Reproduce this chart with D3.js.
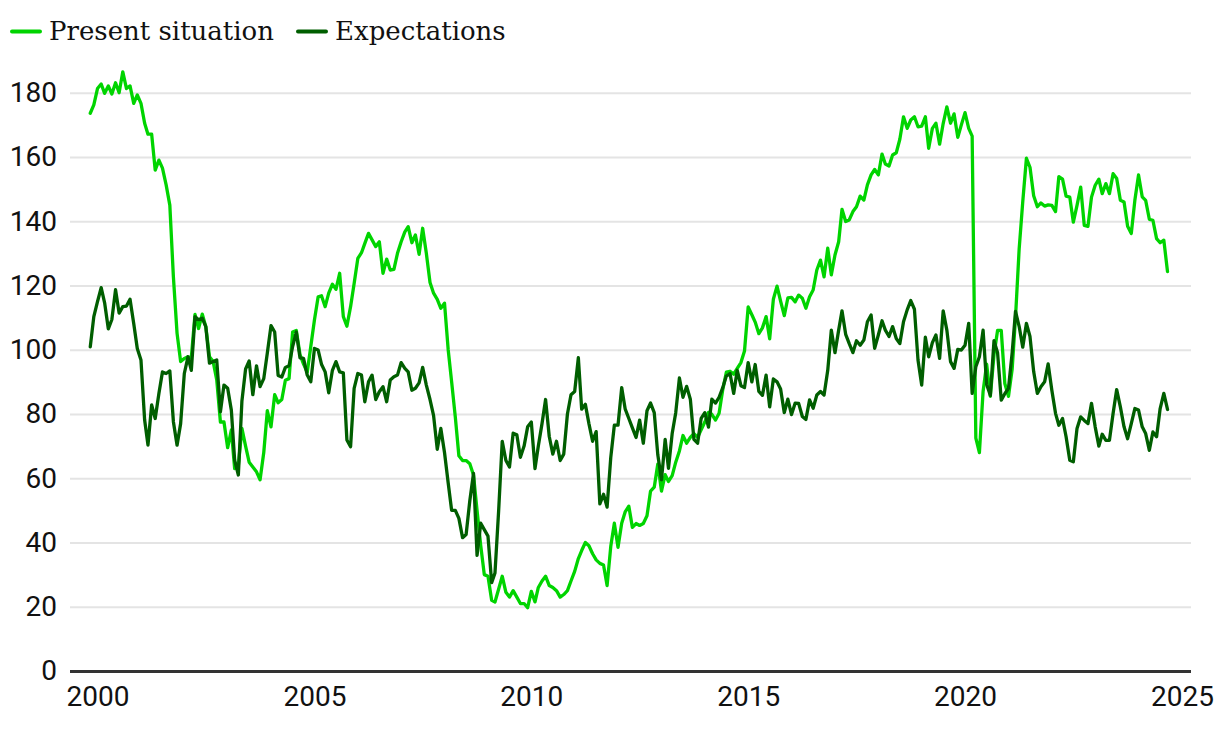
<!DOCTYPE html>
<html>
<head>
<meta charset="utf-8">
<script src="https://cdn.jsdelivr.net/npm/d3@7"></script>
<style>
  html, body { margin: 0; padding: 0; background: #ffffff; }
  svg { display: block; }
</style>
</head>
<body>
<svg id="chart" width="1220" height="732"></svg>
<script>
// ---------------- DATA ----------------
const seriesNames = ["Present situation", "Expectations"];
const firstMonth = "1999-11";   // first monthly observation, last one is 2024-09
const presentSituation = [
  173.6, 176.2, 181.3, 182.7, 179.8, 182.1, 179.6, 183.1, 180, 186.5, 181.3, 182.1,
  176.7, 179.3, 176.7, 170.5, 167.1, 167.1, 155.9, 159, 156.5, 151.3,
  145, 122.7, 105.1, 96.3, 97.3, 97.8, 97.5, 111, 106.6, 111.1,
  107.2, 97.8, 96.3, 90.6, 77.5, 77.5, 69.5, 75, 63, 64,
  75.5, 70, 65, 63.5, 62, 59.5, 68, 81, 76, 86,
  83.5, 84.5, 90.5, 91, 105.5, 106, 98.5, 95.5, 93, 101,
  109.3, 116.5, 116.8, 113.4, 117.6, 120.4, 118.8, 123.8, 110.3, 107.3,
  113.4, 120.6, 128.4, 130.2, 133.1, 136.2, 134.2, 132.1, 133.6, 123.8,
  128.2, 124.8, 125, 130, 133.6, 136.7, 138.3, 133.3, 135.7, 129.7,
  137.8, 130, 120.9, 117.6, 115.7, 112.9, 114.5, 100, 90, 79,
  67, 65.5, 65.5, 64.5, 61, 50, 39, 30, 29.5, 22,
  21.5, 25.5, 29.5, 24.5, 23, 25, 23, 21, 21, 19.7,
  24.8, 21.5, 26, 28, 29.5, 26.6, 26, 25, 23, 23.8,
  25, 28, 31, 35, 37.5, 40, 39, 36.5, 34.6, 33.5,
  33, 26.6, 38.8, 46, 38.5, 46, 49.5, 51.3, 44.7, 45.9,
  45.3, 45.9, 48.3, 56, 57.2, 64.4, 56, 61.1, 59, 60.8,
  65, 68.5, 73.3, 70.9, 72.7, 73.9, 72.7, 75.1, 77.5, 80.5,
  79.9, 78.1, 80.2, 87.6, 93, 93.3, 92.4, 94.2, 96, 99.6,
  113.3, 110.9, 108.6, 105, 106.8, 110.3, 103.4, 115.7, 119.8, 115.1,
  110.6, 116.1, 116.3, 114.9, 117, 116, 112.9, 116.5, 118.6, 124.8,
  127.9, 122.7, 131.6, 123.3, 129.5, 133.6, 143.7, 139.9, 140.4, 143,
  144.5, 147.8, 146.6, 151.3, 154.4, 156.1, 154.4, 160.9, 157.8, 157.2,
  160.6, 161.3, 165.5, 172.5, 168.9, 171.5, 172.5, 169.4, 169.6, 172.5,
  162.7, 168.9, 170.5, 164, 170.4, 175.6, 170.5, 173.4, 166.1, 170,
  173.8, 168.9, 166.5, 72.5, 68, 87, 95.5, 85.5, 98.5, 106,
  106, 89.5, 85.5, 94, 110, 131.5, 146, 159.6, 156.8, 147.9,
  144.5, 145.7, 144.7, 145.1, 144.9, 143, 153.9, 153.1, 147.8, 147.5,
  139.7, 144.9, 150.6, 138.7, 138.4, 147.5, 151.2, 153.1, 148.6, 151.7,
  148.6, 154.8, 153.3, 146.5, 146, 138.4, 136.2, 146.5, 154.4, 147.6,
  146.5, 140.6, 140.3, 134.6, 133.3, 134.1, 124.3
];
const expectations = [
  100.9, 110.3, 115, 119.3, 114.6, 106.5, 109.4, 118.7, 111.4, 113.4, 113.6, 115.7,
  108.2, 100.4, 96.8, 78.1, 70.3, 82.8, 78.6, 86.4, 93.1, 92.6,
  93.4, 77.6, 70.3, 77, 92.6, 97.8, 93.6, 110.3, 109.3, 109.8,
  107.2, 95.8, 96.3, 96.8, 80.7, 89, 88, 81.2, 65.6, 61,
  84, 94, 96.5, 86, 95, 88.5, 91, 99, 107.5, 105.5,
  92, 91.5, 94.5, 95, 101, 105.5, 97.5, 97.3, 92.1, 90,
  100.4, 99.9, 95.5, 93.1, 86.6, 93.6, 96.3, 93.1, 92.8, 71.9,
  69.8, 88, 92.6, 92.1, 83.8, 90, 92.1, 84.5, 86.9, 88.5,
  83.8, 90.6, 91.6, 92.1, 96, 94.2, 93.1, 87.4, 88, 89.7,
  94.5, 89, 84.5, 79.5, 69, 75.5, 68, 58.5, 50, 50,
  47.5, 41.5, 42.5, 53, 61.5, 36, 46, 44, 42, 27.5,
  30.5, 50, 71.5, 65.5, 63.5, 74, 73.5, 66.5, 70, 76,
  77.5, 63, 70, 77, 84.5, 73, 67.5, 71.5, 65.5, 67.5,
  80, 86, 87, 97.5, 81.5, 83, 77, 71.5, 74.5, 52,
  55, 51, 66.5, 76.5, 76.5, 88.2, 81.6, 78.6, 75.7, 72.7,
  78.1, 70.9, 81, 83.4, 80.4, 67.3, 59.5, 72.1, 63.1, 73.9,
  80.4, 91.2, 85.2, 88.6, 84.6, 72.1, 70.9, 78.6, 80.4, 75.9,
  84.6, 83.4, 85.2, 88.2, 91.8, 92.6, 86.4, 93.6, 88.8, 88.2,
  96, 90, 95.4, 87, 85.8, 92.1, 82.2, 90.9, 90, 87.8,
  80.4, 84.6, 79.8, 83.4, 83.3, 79.2, 78.3, 84.4, 81.8, 85.9,
  87, 85.9, 93.6, 106.1, 99.1, 106.1, 112.1, 104.8, 101.9, 99.1,
  102.8, 101.4, 103, 108.7, 110.8, 100.4, 104.6, 109, 106.1, 104.1,
  107.2, 103.5, 101.9, 108.7, 112.4, 115.3, 112.6, 96.8, 89, 103.9,
  97.8, 102.2, 104.6, 97.3, 112.1, 106.1, 96.3, 94.2, 100.1, 99.9,
  101.4, 108.2, 86.4, 94.7, 97.8, 106.1, 89.2, 85.8, 102.8, 99.1,
  84.3, 86.3, 88, 99.1, 111.9, 107.2, 100.8, 108.2, 104.1, 93.2,
  86.4, 88.5, 90, 95.6, 87.4, 80.2, 76.5, 78.6, 72.9, 65.6,
  65.1, 75.5, 79.1, 78, 77, 83.3, 76, 70, 73.7, 71.8,
  71.8, 80.2, 87.6, 82.2, 76, 72.3, 77, 81.7, 81.2, 76,
  73.9, 68.7, 74.4, 72.9, 81.7, 86.4, 81.4
];
const yTickValues = [0, 20, 40, 60, 80, 100, 120, 140, 160, 180];
const xTickYears = [2000, 2005, 2010, 2015, 2020, 2025];

// ---------------- STYLE / LAYOUT ----------------
const colors = ["#00d400", "#005e00"];
const W = 1220, H = 732;
const plot = { left: 70, right: 1191, x0: 97.5, x1: 1182, top: 92.7, bottom: 671 };

const svg = d3.select("#chart");

const parseMonth = d3.timeParse("%Y-%m");
const start = parseMonth(firstMonth);
const dates = presentSituation.map((_, i) => d3.timeMonth.offset(start, i));

const x = d3.scaleTime()
  .domain([new Date(xTickYears[0], 0, 1), new Date(xTickYears[xTickYears.length - 1], 0, 1)])
  .range([plot.x0, plot.x1]);
const y = d3.scaleLinear().domain([0, 180]).range([plot.bottom, plot.top]);

// y axis with gridlines
const yAxis = svg.append("g")
  .attr("transform", `translate(${plot.left},0)`)
  .call(d3.axisLeft(y)
    .tickValues(yTickValues)
    .tickSize(-(plot.right - plot.left))
    .tickPadding(13)
    .tickFormat(d3.format("d")));
yAxis.select(".domain").remove();
yAxis.selectAll(".tick line")
  .attr("stroke", d => d === 0 ? "#333333" : "#e4e4e4")
  .attr("stroke-width", d => d === 0 ? 3 : 2);
yAxis.selectAll(".tick text")
  .attr("fill", "#111")
  .style("font-family", "Roboto, 'Liberation Sans', sans-serif")
  .style("font-size", "28px");

// x axis
const xAxis = svg.append("g")
  .attr("transform", `translate(0,${plot.bottom})`)
  .call(d3.axisBottom(x)
    .tickValues(xTickYears.map(yr => new Date(yr, 0, 1)))
    .tickSize(0)
    .tickPadding(15)
    .tickFormat(d3.timeFormat("%Y")));
xAxis.select(".domain").remove();
xAxis.selectAll(".tick text")
  .attr("fill", "#111")
  .style("font-family", "Roboto, 'Liberation Sans', sans-serif")
  .style("font-size", "28px");

// lines
const series = [presentSituation, expectations];
const line = d3.line()
  .x((d, i) => x(dates[i]))
  .y(d => y(d));

series.forEach((vals, k) => {
  svg.append("path")
    .datum(vals)
    .attr("fill", "none")
    .attr("stroke", colors[k])
    .attr("stroke-width", 3.3)
    .attr("stroke-linejoin", "round")
    .attr("stroke-linecap", "round")
    .attr("d", line);
});

// legend
const legendX = [12, 298];
const legend = svg.append("g");
seriesNames.forEach((name, k) => {
  const g = legend.append("g").attr("transform", `translate(${legendX[k]},0)`);
  g.append("line")
    .attr("x1", 0).attr("x2", 28)
    .attr("y1", 31.5).attr("y2", 31.5)
    .attr("stroke", colors[k])
    .attr("stroke-width", 4)
    .attr("stroke-linecap", "round");
  g.append("text")
    .attr("x", 37).attr("y", 40)
    .attr("fill", "#111")
    .style("font-family", "'DejaVu Serif', serif")
    .style("font-size", "26px")
    .text(name);
});
</script>
</body>
</html>
